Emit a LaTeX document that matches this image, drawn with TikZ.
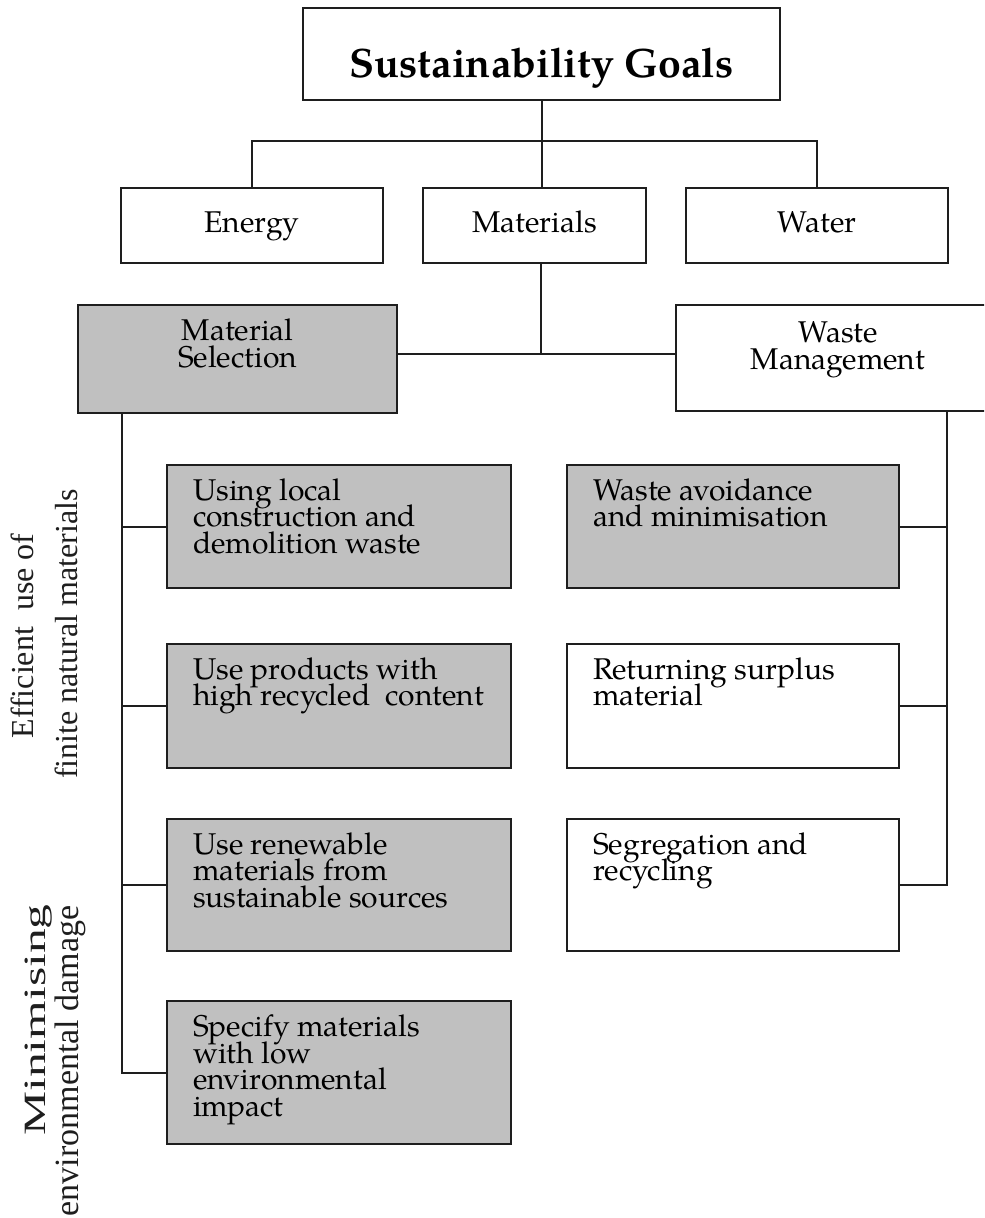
\documentclass[tikz,border=0pt]{standalone}
\usepackage{fontspec}
\usepackage{graphicx}
\setmainfont{texgyrepagella}[Extension=.otf, UprightFont=*-regular, BoldFont=*-bold, ItalicFont=*-italic, BoldItalicFont=*-bolditalic]
\newfontfamily\timesf{Liberation Serif}
\definecolor{boxgray}{RGB}{192,192,192}
\definecolor{ink}{RGB}{30,30,30}
\newcommand{\boxfont}{\fontsize{15pt}{13.3pt}\selectfont\lineskiplimit=-20pt\relax}
\newcommand{\txtl}[3]{\parbox[c][#2][t]{#1}{\boxfont\raggedright\leftskip=13pt\relax\vspace*{6.8pt}#3\par}}
\newcommand{\txtc}[4]{\parbox[c][#2][t]{#1}{\boxfont\centering\vspace*{#3}#4\par}}
\begin{document}
\begin{tikzpicture}[x=0.5pt,y=-0.5pt,
  box/.style={draw=ink, line width=1.2pt, inner sep=0pt, fill=white},
  gbox/.style={box, fill=boxgray},
  conn/.style={draw=ink, line width=1pt},
  side/.style={rotate=90, anchor=base, inner sep=0pt, text=ink}]
\useasboundingbox (0,0) rectangle (984,1218);
\clip (0,0) rectangle (984,1218);
\fill[white] (0,0) rectangle (984,1218);

% top levels
\node[box] (goal) at (541.5,54) {\parbox[c][46pt][t]{238.5pt}{\centering\fontsize{20.5pt}{21pt}\selectfont\bfseries\vspace*{19.8pt}Sustainability Goals\par}};
\node[box] (en) at (252,225.5) {\txtc{131pt}{37.5pt}{11.8pt}{Energy}};
\node[box] (ma) at (534.5,225.5) {\txtc{111.5pt}{37.5pt}{11.3pt}{Materials}};
\node[box] (wa) at (817,225.5) {\txtc{131pt}{37.5pt}{11.8pt}{Water}};

% second level
\node[gbox] (ms) at (237.5,359) {\txtc{159.5pt}{54pt}{7pt}{Material\\Selection}};
\node[box] (wm) at (838,358) {\txtc{162pt}{53pt}{8.5pt}{Waste\\Management}};

% material selection branch
\node[gbox] (l1) at (339,526.5) {\txtl{172pt}{61.5pt}{Using local\\construction and\\demolition waste}};
\node[gbox] (l2) at (339,706) {\txtl{172pt}{62pt}{Use products with\\high recycled\ \ content}};
\node[gbox] (l3) at (339,885) {\txtl{172pt}{66pt}{Use renewable\\materials from\\sustainable sources}};
\node[gbox] (l4) at (339,1072.5) {\txtl{172pt}{71.5pt}{Specify materials\\with low\\environmental\\impact}};

% waste management branch
\node[gbox] (r1) at (733,526.5) {\txtl{166pt}{61.5pt}{Waste avoidance\\and minimisation}};
\node[box] (r2) at (733,706) {\txtl{166pt}{62pt}{Returning surplus\\material}};
\node[box] (r3) at (733,885) {\txtl{166pt}{66pt}{Segregation and\\recycling}};

% connectors
\coordinate (hub) at (541,141);
\coordinate (split) at (541,354);
\coordinate (lt) at (122,0);
\coordinate (rt) at (947,0);
\draw[conn] (goal.south) -- (goal.south |- ma.north);
\draw[conn] (en.north) |- (hub) -| (wa.north);
\draw[conn] (ma.south -| split) -- (split);
\draw[conn] (split -| ms.east) -- (split -| wm.west);
\draw[conn] (lt |- ms.south) -- (lt |- l4.west) -- (l4.west);
\draw[conn] (l1.west) -- (l1.west -| lt);
\draw[conn] (l2.west) -- (l2.west -| lt);
\draw[conn] (l3.west) -- (l3.west -| lt);
\draw[conn] (rt |- wm.south) -- (rt |- r3.east) -- (r3.east);
\draw[conn] (r1.east) -- (r1.east -| rt);
\draw[conn] (r2.east) -- (r2.east -| rt);

% side labels
\node[side, font=\timesf\fontsize{16pt}{16pt}\selectfont] (eff1) at (33,636) {Efficient\ \ use of};
\node[side, font=\timesf\fontsize{16pt}{16pt}\selectfont] (eff2) at (77,634) {finite natural materials};
\node[side, font=\timesf\fontsize{15.5pt}{16pt}\selectfont] (min1) at (45,1020) {\scalebox{1.6}[1]{Minimising}};
\node[side, font=\timesf\fontsize{17pt}{17pt}\selectfont] (min2) at (78,1061) {environmental damage};
\end{tikzpicture}
\end{document}
